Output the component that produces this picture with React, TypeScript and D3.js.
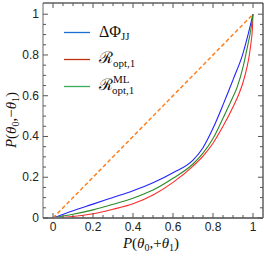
import React from 'react';
import * as d3 from 'd3';

const width = 266;
const height = 258;
const frame = {left: 43, right: 263, top: 3, bottom: 218};

// curve data: [P(θ0,+θ1), P(θ0,−θ1)]
const phiJJ: [number, number][] = [
  [0, 0], [0.1, 0.036], [0.2, 0.068], [0.3, 0.101], [0.4, 0.134], [0.5, 0.173],
  [0.6, 0.222], [0.7, 0.284], [0.75, 0.345], [0.8, 0.44], [0.85, 0.555],
  [0.88, 0.628], [0.9, 0.678], [0.95, 0.808], [0.98, 0.918], [1, 1],
];
const rOpt: [number, number][] = [
  [0, 0], [0.1, 0.007], [0.2, 0.021], [0.3, 0.043], [0.4, 0.07], [0.5, 0.113],
  [0.6, 0.175], [0.7, 0.255], [0.75, 0.304], [0.8, 0.367], [0.85, 0.45],
  [0.9, 0.545], [0.93, 0.61], [0.95, 0.665], [0.97, 0.74], [0.98, 0.79],
  [0.99, 0.86], [0.997, 0.93], [1, 1],
];
const rOptML: [number, number][] = [
  [0, 0], [0.1, 0.018], [0.2, 0.04], [0.3, 0.067], [0.4, 0.097], [0.5, 0.137],
  [0.6, 0.195], [0.7, 0.265], [0.75, 0.318], [0.8, 0.39], [0.85, 0.49],
  [0.9, 0.595], [0.92, 0.64], [0.95, 0.74], [0.97, 0.83], [0.99, 0.93], [1, 1],
];
const diagonal: [number, number][] = [[0, 0], [1, 1]];

const majorTicks = [0, 0.2, 0.4, 0.6, 0.8, 1];
const tickLabels = ['0', '0.2', '0.4', '0.6', '0.8', '1'];

const series = [
  {name: 'phi', data: phiJJ, color: '#2222ff', legendColor: '#1a6fd2'},
  {name: 'ropt', data: rOpt, color: '#ff2a2a', legendColor: '#c0300f'},
  {name: 'roptml', data: rOptML, color: '#2a8a2a', legendColor: '#3aaa5a'},
];

const xScale = d3.scaleLinear().domain([-0.05, 1.05]).range([frame.left, frame.right]);
const yScale = d3.scaleLinear().domain([0, 1.055]).range([frame.bottom, frame.top]);
const line = d3.line<[number, number]>()
  .x(d => xScale(d[0]))
  .y(d => yScale(d[1]))
  .curve(d3.curveMonotoneX);

const minorTicks = d3.range(0, 1.0001, 0.05).filter(v => Math.abs(v * 5 - Math.round(v * 5)) > 1e-6);

const serif = '"Liberation Serif", "DejaVu Serif", serif';
const sans = '"Liberation Sans", Arial, sans-serif';

export default function App() {
  const tickColor = '#555';
  return (
    <svg width={width} height={height} style={{position: 'absolute', left: 0, top: 0}}>
      <rect width={width} height={height} fill='#fff' />
      {/* orange diagonal */}
      <path d={line(diagonal) || ''} fill='none' stroke='#ff8020' strokeWidth={1.5} strokeDasharray='4,2.5' />
      {series.map(s => (
        <path key={s.name} d={line(s.data) || ''} fill='none' stroke={s.color} strokeWidth={1.1} />
      ))}
      {/* frame */}
      <line x1={frame.left} x2={frame.right} y1={frame.top} y2={frame.top} stroke='#111' />
      <line x1={frame.right} x2={frame.right} y1={frame.top} y2={frame.bottom} stroke='#111' />
      <line x1={frame.left} x2={frame.left} y1={frame.top} y2={frame.bottom} stroke='#666' />
      <line x1={frame.left} x2={frame.right} y1={frame.bottom} y2={frame.bottom} stroke='#777' strokeWidth={2} />
      {/* ticks */}
      {majorTicks.map(t => (
        <g key={'M' + t} stroke={tickColor}>
          <line x1={xScale(t)} x2={xScale(t)} y1={frame.bottom} y2={frame.bottom - 5} />
          <line x1={xScale(t)} x2={xScale(t)} y1={frame.top} y2={frame.top + 5} />
          <line x1={frame.left} x2={frame.left + 5} y1={yScale(t)} y2={yScale(t)} />
          <line x1={frame.right} x2={frame.right - 5} y1={yScale(t)} y2={yScale(t)} />
        </g>
      ))}
      {minorTicks.map(t => (
        <g key={'m' + t} stroke={tickColor}>
          <line x1={xScale(t)} x2={xScale(t)} y1={frame.bottom} y2={frame.bottom - 3} />
          <line x1={xScale(t)} x2={xScale(t)} y1={frame.top} y2={frame.top + 3} />
          <line x1={frame.left} x2={frame.left + 3} y1={yScale(t)} y2={yScale(t)} />
          <line x1={frame.right} x2={frame.right - 3} y1={yScale(t)} y2={yScale(t)} />
        </g>
      ))}
      {/* tick labels */}
      {majorTicks.map((t, i) => (
        <text key={'xl' + t} x={xScale(t)} y={231} textAnchor='middle' fontFamily={sans} fontSize={12} fill='#222'>
          {tickLabels[i]}
        </text>
      ))}
      {majorTicks.map((t, i) => (
        <text key={'yl' + t} x={39} y={yScale(t) + 4} textAnchor='end' fontFamily={sans} fontSize={12} fill='#222'>
          {tickLabels[i]}
        </text>
      ))}
      {/* axis titles */}
      <text x={151} y={248} textAnchor='middle' fontFamily={serif} fontSize={15} fill='#111'>
        <tspan fontStyle='italic'>P</tspan>(<tspan fontStyle='italic'>θ</tspan>
        <tspan fontSize={10} dy={3}>0</tspan>
        <tspan dy={-3}>,+</tspan><tspan fontStyle='italic'>θ</tspan>
        <tspan fontSize={10} dy={3}>1</tspan>
        <tspan dy={-3}>)</tspan>
      </text>
      <text transform='translate(16,120) rotate(-90)' textAnchor='middle' fontFamily={serif} fontSize={15} fill='#111'>
        <tspan fontStyle='italic'>P</tspan>(<tspan fontStyle='italic'>θ</tspan>
        <tspan fontSize={10} dy={3}>0</tspan>
        <tspan dy={-3}>,−</tspan><tspan fontStyle='italic'>θ</tspan>
        <tspan fontSize={10} dy={3}>1</tspan>
        <tspan dy={-3}>)</tspan>
      </text>
      {/* legend */}
      {series.map((s, i) => (
        <line key={'lg' + s.name} x1={64} x2={90} y1={[32.5, 59.5, 86.5][i]} y2={[32.5, 59.5, 86.5][i]}
          stroke={s.legendColor} strokeWidth={1.3} />
      ))}
      <text x={99} y={37} fontFamily={serif} fontSize={16} fill='#111'>
        ΔΦ<tspan fontSize={11} dy={3}>JJ</tspan>
      </text>
      <text x={99} y={63} fontFamily={serif} fontSize={16} fill='#111'>
        ℛ<tspan fontSize={11} dy={4}>opt,1</tspan>
      </text>
      <text x={99} y={90} fontFamily={serif} fontSize={16} fill='#111'>
        ℛ<tspan fontSize={11} dy={-7}>ML</tspan>
        <tspan fontSize={11} x={112} dy={11}>opt,1</tspan>
      </text>
    </svg>
  );
}
